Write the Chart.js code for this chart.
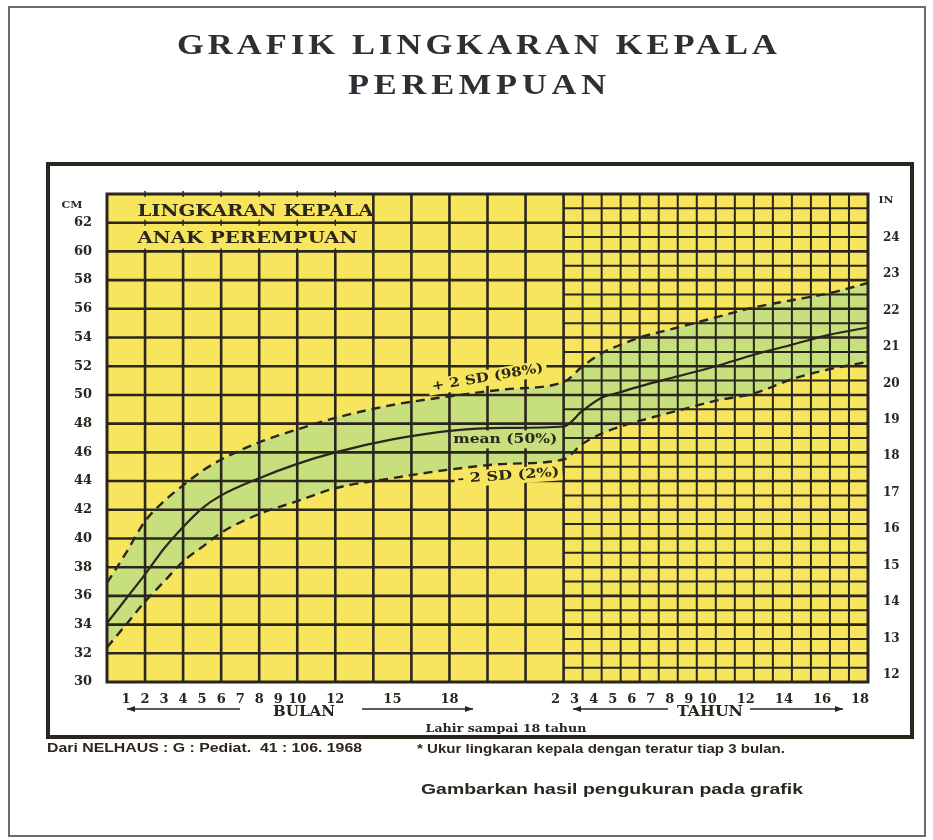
<!DOCTYPE html>
<html>
<head>
<meta charset="utf-8">
<script src="https://cdn.jsdelivr.net/npm/chart.js@4.4.1/dist/chart.umd.min.js"></script>
<style>
  html, body { margin: 0; padding: 0; background: #fff; }
  #wrap { width: 933px; height: 840px; }
</style>
</head>
<body>
<div id="wrap"><canvas id="headChart" width="933" height="840"></canvas></div>
<script>
// birth - 24 months (one axis unit per month)
const infantMonths = [0, 1, 2, 3, 4, 5, 6, 8, 10, 12, 15, 18, 21, 24];
const plus2Infant  = [36.9, 39.0, 41.2, 42.6, 43.7, 44.7, 45.5, 46.7, 47.6, 48.4, 49.3, 49.9, 50.4, 50.9];
const meanInfant   = [34.1, 35.8, 37.5, 39.3, 40.8, 42.1, 43.0, 44.2, 45.2, 46.0, 46.9, 47.5, 47.7, 47.8];
const minus2Infant = [32.4, 34.0, 35.6, 37.0, 38.4, 39.4, 40.4, 41.7, 42.6, 43.5, 44.2, 44.8, 45.2, 45.5];

// 3 - 18 years (one axis unit per year)
const childYears  = [3, 4, 5, 6, 8, 10, 12, 14, 16, 18];
const plus2Child  = [52.0, 52.9, 53.5, 54.0, 54.7, 55.4, 56.1, 56.6, 57.1, 57.8];
const meanChild   = [48.9, 49.8, 50.2, 50.6, 51.3, 52.0, 52.8, 53.5, 54.2, 54.7];
const minus2Child = [46.6, 47.3, 47.8, 48.2, 48.9, 49.6, 50.1, 51.1, 51.8, 52.3];

// tick labels
const monthTicks = [1, 2, 3, 4, 5, 6, 7, 8, 9, 10, 12, 15, 18];
const yearTicks  = [2, 3, 4, 5, 6, 7, 8, 9, 10, 12, 14, 16, 18];
const cmTicks    = [30, 32, 34, 36, 38, 40, 42, 44, 46, 48, 50, 52, 54, 56, 58, 60, 62];
const inchTicks  = [12, 13, 14, 15, 16, 17, 18, 19, 20, 21, 22, 23, 24];

const YELLOW = '#f7e55e';
const GREEN = '#c8df7e';
const INK = '#2a261e';

// x axis: months 0-24, then years 2-18 continue at one unit per year
const yearToAxis = (yr) => 24 + (yr - 2);
const axisToYear = (v) => v - 22;

const toPoints = (vals1, vals2) =>
  infantMonths.map((m, i) => ({ x: m, y: vals1[i] }))
    .concat(childYears.map((yr, i) => ({ x: yearToAxis(yr), y: vals2[i] })));

// draws text stretched to a given width; `spread` = share of the gap taken by letter spacing
function fitted(ctx, text, x, y, width, align, spread) {
  ctx.letterSpacing = '0px';
  const natural = ctx.measureText(text).width;
  let spacing = 0;
  if (spread && natural < width && 'letterSpacing' in ctx) {
    spacing = ((width - natural) * spread) / Math.max(text.length - 1, 1);
    ctx.letterSpacing = spacing + 'px';
  }
  const spaced = natural + spacing * (text.length - 1);
  const left = align === 'center' ? x - width / 2 : x;
  ctx.save();
  ctx.translate(left, y);
  ctx.scale(width / spaced, 1);
  ctx.textAlign = 'left';
  ctx.textBaseline = 'middle';
  ctx.fillText(text, 0, 0);
  ctx.restore();
  ctx.letterSpacing = '0px';
}

function seg(ctx, x1, y1, x2, y2) {
  ctx.beginPath();
  ctx.moveTo(x1, y1);
  ctx.lineTo(x2, y2);
  ctx.stroke();
}

function arrow(ctx, x1, x2, y, headAt) {
  seg(ctx, x1, y, x2, y);
  const hx = headAt === 'left' ? x1 : x2;
  const d = headAt === 'left' ? 8 : -8;
  ctx.beginPath();
  ctx.moveTo(hx, y);
  ctx.lineTo(hx + d, y - 3);
  ctx.lineTo(hx + d, y + 3);
  ctx.closePath();
  ctx.fill();
}

const paperPlugin = {
  id: 'paper',
  afterLayout(chart) {
    // month and year labels share one printed row
    const { x, xYears } = chart.scales;
    x.top = xYears.top;
    x.bottom = xYears.bottom;
  },
  beforeDraw(chart) {
    const ctx = chart.ctx;
    const { left, right, top, bottom } = chart.chartArea;
    ctx.save();
    ctx.fillStyle = '#fff';
    ctx.fillRect(0, 0, chart.width, chart.height);
    ctx.strokeStyle = '#6a6a70';
    ctx.lineWidth = 2;
    ctx.strokeRect(9, 7, 916, 829);
    ctx.strokeStyle = INK;
    ctx.lineWidth = 4;
    ctx.strokeRect(48, 164, 864, 573);
    ctx.fillStyle = YELLOW;
    ctx.fillRect(left, top, right - left, bottom - top);

    ctx.fillStyle = '#2e2e34';
    ctx.font = 'bold 30px "Liberation Serif"';
    fitted(ctx, 'GRAFIK LINGKARAN KEPALA', 477, 46, 600, 'center', 0.5);
    fitted(ctx, 'PEREMPUAN', 477, 86, 258, 'center', 0.5);

    ctx.fillStyle = INK;
    ctx.font = 'bold 13px "Liberation Sans"';
    fitted(ctx, 'Dari NELHAUS : G : Pediat.  41 : 106. 1968', 47, 748, 315);
    ctx.font = 'bold 12px "Liberation Sans"';
    fitted(ctx, '* Ukur lingkaran kepala dengan teratur tiap 3 bulan.', 417, 750, 368);
    ctx.font = 'bold 15px "Liberation Sans"';
    fitted(ctx, 'Gambarkan hasil pengukuran pada grafik', 421, 790, 382);

    ctx.font = 'bold 15px "DejaVu Serif"';
    fitted(ctx, 'BULAN', 304, 712, 62, 'center');
    fitted(ctx, 'TAHUN', 710, 712, 66, 'center');
    ctx.font = 'bold 11px "DejaVu Serif"';
    fitted(ctx, 'Lahir sampai 18 tahun', 506, 729, 161, 'center');
    ctx.font = 'bold 10px "DejaVu Serif"';
    fitted(ctx, 'CM', 72, 205, 21, 'center');
    fitted(ctx, 'IN', 886, 200, 15, 'center');

    ctx.strokeStyle = INK;
    ctx.lineWidth = 1.5;
    arrow(ctx, 127, 240, 709, 'left');
    arrow(ctx, 362, 473, 709, 'right');
    arrow(ctx, 573, 668, 709, 'left');
    arrow(ctx, 750, 843, 709, 'right');
    ctx.restore();
  },
  beforeDatasetsDraw(chart) {
    // grid goes over the green band, under the curves
    const ctx = chart.ctx;
    const { left, right, top, bottom } = chart.chartArea;
    const X = (v) => chart.scales.x.getPixelForValue(v);
    const Y = (v) => chart.scales.y.getPixelForValue(v);
    ctx.save();
    ctx.strokeStyle = INK;
    for (let c = 31; c < 64; c++) {
      const even = c % 2 === 0;
      ctx.lineWidth = even ? 2.6 : 2;
      seg(ctx, even ? left : X(24), Y(c), right, Y(c));
    }
    for (let u = 1; u < 40; u++) {
      if (u < 24 && u % 2) continue;
      ctx.lineWidth = u <= 24 ? 2.6 : 2;
      seg(ctx, X(u), bottom, X(u), u <= 12 ? Y(60) : top);
    }
    ctx.lineWidth = 1.5;
    for (let u = 2; u <= 12; u += 2) {
      [64, 62, 60].forEach((c) => seg(ctx, X(u), Y(c) - 3, X(u), Y(c) + 3));
    }
    ctx.lineWidth = 3;
    ctx.strokeRect(left, top, right - left, bottom - top);

    // label backgrounds break the grid as in the print
    ctx.fillStyle = GREEN;
    ctx.fillRect(X(18.1), Y(46.9) - 9, 108, 18);
    ctx.fillStyle = YELLOW;
    ctx.save();
    ctx.translate(X(20.0), Y(51.2));
    ctx.rotate(-0.17);
    ctx.fillRect(-60, -8, 120, 16);
    ctx.restore();
    ctx.save();
    ctx.translate(X(21.1), Y(44.35));
    ctx.rotate(-0.07);
    ctx.fillRect(-54, -8, 108, 16);
    ctx.restore();
    ctx.restore();
  },
  afterDatasetsDraw(chart) {
    const ctx = chart.ctx;
    const X = (v) => chart.scales.x.getPixelForValue(v);
    const Y = (v) => chart.scales.y.getPixelForValue(v);
    ctx.save();
    ctx.fillStyle = INK;
    ctx.font = 'bold 17px "DejaVu Serif"';
    fitted(ctx, 'LINGKARAN KEPALA', X(1.6), Y(62.8), 236);
    fitted(ctx, 'ANAK PEREMPUAN', X(1.6), Y(60.9), 220);
    ctx.font = 'bold 13px "DejaVu Serif"';
    fitted(ctx, 'mean (50%)', X(18.2), Y(46.9), 104);
    ctx.save();
    ctx.translate(X(20.0), Y(51.2));
    ctx.rotate(-0.17);
    fitted(ctx, '+ 2 SD (98%)', 0, 0, 113, 'center');
    ctx.restore();
    ctx.save();
    ctx.translate(X(21.1), Y(44.35));
    ctx.rotate(-0.07);
    fitted(ctx, '- 2 SD (2%)', 0, 0, 102, 'center');
    ctx.restore();
    ctx.restore();
  },
};

const tickFont = { family: 'DejaVu Serif', weight: 'bold', size: 13 };
const hidden = { grid: { display: false }, border: { display: false } };

const config = {
  type: 'line',
  data: {
    datasets: [
      {
        label: '+ 2 SD (98%)',
        data: toPoints(plus2Infant, plus2Child),
        borderColor: INK,
        borderWidth: 2.4,
        borderDash: [9, 6],
        backgroundColor: GREEN,
        fill: 2,
        cubicInterpolationMode: 'monotone',
        pointRadius: 0,
      },
      {
        label: 'mean (50%)',
        data: toPoints(meanInfant, meanChild),
        borderColor: INK,
        borderWidth: 2.2,
        fill: false,
        cubicInterpolationMode: 'monotone',
        pointRadius: 0,
      },
      {
        label: '- 2 SD (2%)',
        data: toPoints(minus2Infant, minus2Child),
        borderColor: INK,
        borderWidth: 2.4,
        borderDash: [9, 6],
        fill: false,
        cubicInterpolationMode: 'monotone',
        pointRadius: 0,
      },
    ],
  },
  options: {
    responsive: false,
    animation: false,
    devicePixelRatio: 1,
    layout: { padding: { left: 57, right: 25, top: 194, bottom: 98 } },
    scales: {
      // months (BULAN)
      x: {
        ...hidden,
        type: 'linear',
        min: 0,
        max: 40,
        weight: 1,
        afterBuildTicks: (scale) => {
          scale.ticks = monthTicks.map((v) => ({ value: v }));
        },
        afterFit: (scale) => { scale.height = 30; },
        ticks: { autoSkip: false, maxRotation: 0, padding: 2, color: INK, font: tickFont },
      },
      // years (TAHUN), same pixel space; printed labels sit a little left of the grid lines
      xYears: {
        ...hidden,
        type: 'linear',
        position: 'bottom',
        min: 0,
        max: 40,
        weight: 0,
        afterBuildTicks: (scale) => {
          scale.ticks = yearTicks.map((v) => ({ value: yearToAxis(v) }));
        },
        afterFit: (scale) => { scale.height = 30; },
        ticks: {
          autoSkip: false,
          maxRotation: 0,
          padding: 2,
          labelOffset: -8,
          color: INK,
          font: tickFont,
          callback: (v) => axisToYear(v),
        },
      },
      y: {
        ...hidden,
        min: 30,
        max: 64,
        afterBuildTicks: (scale) => {
          scale.ticks = cmTicks.map((v) => ({ value: v }));
        },
        afterFit: (scale) => { scale.width = 50; },
        ticks: { padding: 7, color: INK, font: tickFont },
      },
      y2: {
        ...hidden,
        position: 'right',
        min: 30 / 2.54,
        max: 64 / 2.54,
        afterBuildTicks: (scale) => {
          scale.ticks = inchTicks.map((v) => ({ value: v }));
        },
        afterFit: (scale) => { scale.width = 40; },
        ticks: { padding: 7, color: INK, font: { family: 'DejaVu Serif', weight: 'bold', size: 12 } },
      },
    },
    plugins: {
      legend: { display: false },
      tooltip: { enabled: false },
      filler: { drawTime: 'beforeDatasetsDraw' },
    },
  },
  plugins: [paperPlugin],
};

new Chart(document.getElementById('headChart'), config);
</script>
</body>
</html>
